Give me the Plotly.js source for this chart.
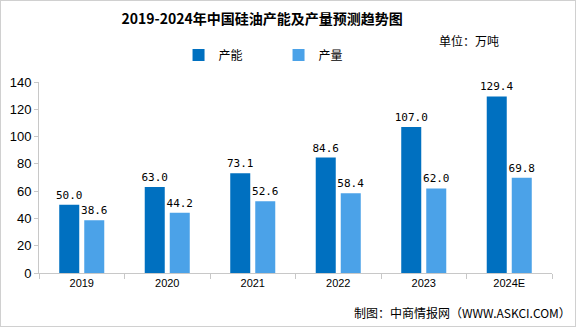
<!DOCTYPE html>
<html><head><meta charset="utf-8">
<script src="https://cdn.plot.ly/plotly-3.0.1.min.js"></script>
<style>html,body{margin:0;padding:0;background:#fff}#c{width:574px;height:325px;border:1px solid #d0d0d0}</style>
</head><body><div id="c"></div>
<script>
const categories = ["2019","2020","2021","2022","2023","2024E"];
const capacity = [50.0,63.0,73.1,84.6,107.0,129.4];
const output = [38.6,44.2,52.6,58.4,62.0,69.8];
const yTicks = [0,20,40,60,80,100,120,140];
const cjk = '"Noto Sans CJK SC", sans-serif';
const lblFont = {family:'"DejaVu Sans Mono", "Liberation Mono", monospace', size:11, color:'#000'};
const traces = [
 {type:'bar', name:'产能', x:categories, y:capacity, marker:{color:'#0070C0'},
  text:capacity.map(v=>v.toFixed(1)), textposition:'outside', constraintext:'none', textfont:lblFont, cliponaxis:false},
 {type:'bar', name:'产量', x:categories, y:output, marker:{color:'#4BA2E8'},
  text:output.map(v=>v.toFixed(1)), textposition:'outside', constraintext:'none', textfont:lblFont, cliponaxis:false}
];
const layout = {
 width:574, height:325,
 margin:{l:38,r:23,t:81,b:53},
 paper_bgcolor:'#fff', plot_bgcolor:'#fff',
 barmode:'group', bargap:0.415, bargroupgap:0.2,
 title:{text:'<b>2019-2024年中国硅油产能及产量预测趋势图</b>', font:{family:cjk,size:14,color:'#000'}, x:0.455, xanchor:'center', y:0.945, yanchor:'middle'},
 showlegend:true,
 legend:{orientation:'h', x:0.272, y:1.141, xanchor:'left', yanchor:'middle', font:{family:cjk,size:12,color:'#000'}, itemwidth:30, traceorder:'normal', entrywidth:55},
 xaxis:{type:'category', showline:true, linecolor:'#c8c8c8', ticks:'outside', tickson:'boundaries', ticklen:5, tickcolor:'#c8c8c8', tickfont:{family:'"Liberation Sans", Arial, sans-serif',size:11,color:'#000'}, showgrid:false},
 yaxis:{range:[0,140], tickvals:yTicks, showline:true, linecolor:'#c8c8c8', ticks:'outside', ticklen:4, tickcolor:'#c8c8c8', showgrid:false, zeroline:false, tickfont:{family:'"Liberation Sans", Arial, sans-serif',size:13,color:'#000'}},
 annotations:[
  {text:'单位：万吨', xref:'paper', yref:'paper', x:0.9, y:1.215, xanchor:'right', yanchor:'middle', showarrow:false, font:{family:cjk,size:12,color:'#000'}},
  {text:'制图：中商情报网（WWW.ASKCI.COM）', xref:'paper', yref:'paper', x:1.04, y:-0.205, xanchor:'right', yanchor:'middle', showarrow:false, font:{family:cjk,size:12,color:'#000'}}
 ]
};
Plotly.newPlot('c', traces, layout, {displayModeBar:false, staticPlot:true});
</script></body></html>
